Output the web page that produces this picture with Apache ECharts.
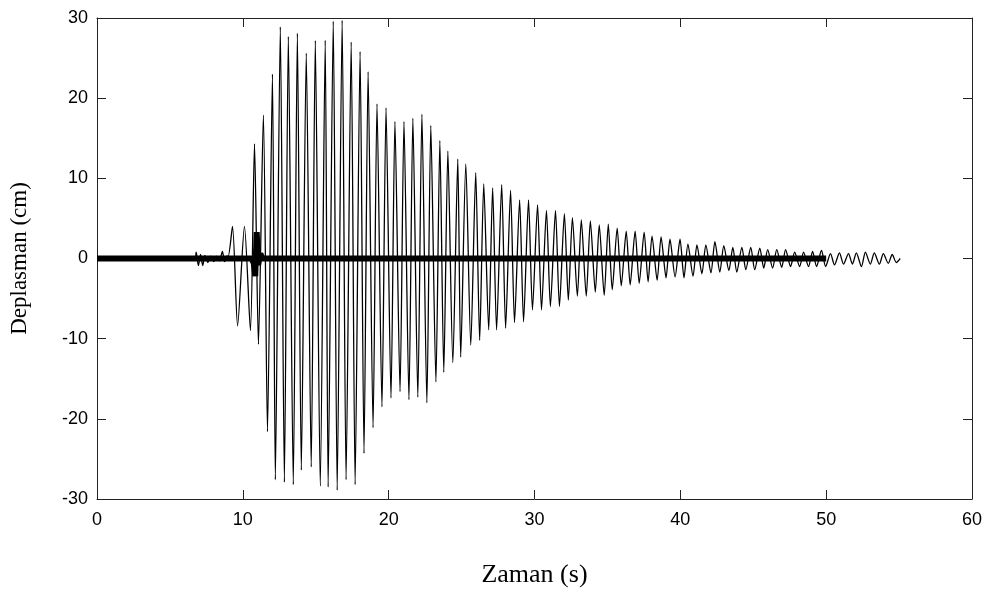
<!DOCTYPE html>
<html><head><meta charset="utf-8">
<script src="https://cdn.jsdelivr.net/npm/echarts@6/dist/echarts.min.js"></script>
<style>html,body{margin:0;padding:0;background:#fff}#c{width:985px;height:595px}</style>
</head><body><div id="c"></div>
<script>
// Response displacement (thin line): times of successive extremes (s) and values (cm)
const mainTime = [0, 6.7, 6.8, 6.95, 7.1, 7.25, 7.4, 7.6, 7.8, 8.0, 8.2, 8.4, 8.6, 8.75, 8.9, 9.0, 9.29, 9.64, 10.11, 10.52, 10.80, 11.07, 11.41, 11.69, 12.03, 12.23, 12.57, 12.85, 13.12, 13.46, 13.74, 14.01, 14.35, 14.69, 14.97, 15.31, 15.65, 15.85, 16.20, 16.47, 16.81, 17.08, 17.43, 17.70, 18.04, 18.31, 18.59, 18.93, 19.20, 19.54, 19.82, 20.16, 20.43, 20.78, 21.05, 21.39, 21.66, 22.00, 22.28, 22.62, 22.89, 23.24, 23.51, 23.78, 24.06, 24.40, 24.74, 24.94, 25.29, 25.63, 25.97, 26.24, 26.52, 26.86, 27.13, 27.40, 27.75, 28.02, 28.36, 28.63, 28.98, 29.25, 29.59, 29.86, 30.21, 30.48, 30.82, 31.09, 31.44, 31.71, 32.05, 32.32, 32.60, 32.94, 33.21, 33.55, 33.83, 34.17, 34.44, 34.78, 35.06, 35.33, 35.67, 35.95, 36.29, 36.56, 36.90, 37.18, 37.52, 37.79, 38.06, 38.41, 38.68, 39.02, 39.29, 39.64, 39.98, 40.25, 40.52, 40.87, 41.14, 41.48, 41.75, 42.10, 42.37, 42.71, 42.98, 43.33, 43.60, 43.87, 44.22, 44.49, 44.83, 45.10, 45.45, 45.72, 45.99, 46.33, 46.61, 46.95, 47.22, 47.56, 47.84, 48.18, 48.45, 48.79, 49.07, 49.34, 49.68, 49.96, 50.30, 50.57, 50.91, 51.19, 51.53, 51.80, 52.07, 52.42, 52.69, 53.03, 53.30, 53.65, 53.92, 54.26, 54.53, 54.81, 55.08];
const mainDisp = [0, 0, 0.8, -0.9, 0.5, -0.9, 0.4, -0.5, 0.3, -0.4, 0.3, -0.3, 0.9, -0.4, 0.3, 0.3, 4.0, -8.4, 4.0, -9.0, 14.3, -10.7, 17.9, -21.6, 23.0, -27.6, 28.9, -27.9, 27.7, -28.2, 28.1, -26.4, 25.6, -26.0, 27.2, -28.4, 27.2, -28.5, 29.6, -28.9, 29.7, -27.6, 27.0, -28.2, 25.8, -24.3, 23.3, -21.1, 19.3, -18.5, 18.8, -17.4, 17.1, -16.6, 17.1, -17.6, 17.5, -17.3, 18.0, -18.0, 16.6, -15.4, 14.7, -14.2, 13.4, -13.0, 12.4, -12.3, 11.8, -10.8, 10.7, -10.2, 9.3, -8.9, 8.8, -8.9, 9.2, -8.7, 8.5, -8.0, 7.3, -7.9, 7.3, -6.4, 6.7, -6.4, 6.0, -6.0, 6.0, -6.0, 5.6, -5.2, 5.1, -4.7, 4.8, -4.7, 4.7, -4.2, 4.2, -4.6, 4.3, -3.9, 3.8, -3.4, 3.4, -3.3, 3.4, -3.1, 3.3, -2.9, 2.8, -2.7, 2.7, -2.4, 2.4, -2.3, 2.4, -2.4, 1.8, -2.2, 1.7, -1.9, 1.7, -1.8, 2.1, -1.7, 1.6, -1.5, 1.4, -1.7, 1.4, -1.4, 1.4, -1.4, 1.3, -1.2, 1.1, -1.2, 1.1, -1.1, 1.1, -1.0, 0.8, -1.0, 0.8, -1.0, 0.9, -1.0, 1.0, -1.0, 0.6, -0.8, 0.7, -0.7, 0.6, -0.7, 0.7, -1.0, 0.8, -0.7, 0.7, -0.7, 0.6, -0.6, 0.5, -0.5, 0.0];
// Base displacement (thick line)
const baseTime = [0, 10.6, 10.75, 10.85, 10.95, 11.05, 11.2, 11.35, 50.0];
const baseDisp = [0, 0, -0.6, -2.2, 3.3, -0.8, 0.6, 0, 0];
const xName = 'Zaman (s)';
const yName = 'Deplasman (cm)';

const mainData = mainTime.map((t, i) => [t, mainDisp[i]]);
const baseData = baseTime.map((t, i) => [t, baseDisp[i]]);

const tickFont = "'Liberation Sans Narrow', 'Liberation Sans', Arial, sans-serif";
const serif = "'Liberation Serif', 'Times New Roman', serif";
const lineStyle = { color: '#222', width: 1 };
const tickStyle = { show: true, inside: true, length: 9, lineStyle: { color: '#222', width: 1 } };

const chart = echarts.init(document.getElementById('c'), null, { renderer: 'canvas' });
chart.setOption({
  animation: false,
  backgroundColor: '#fff',
  grid: { left: 97, right: 10, top: 18, bottom: 96, containLabel: false },
  xAxis: [
    { type: 'value', position: 'bottom', min: 0, max: 60, interval: 10,
      axisLine: { show: true, onZero: false, lineStyle }, axisTick: tickStyle, splitLine: { show: false },
      axisLabel: { color: '#000', fontFamily: tickFont, fontSize: 18, margin: 12 },
      name: xName, nameLocation: 'middle', nameGap: 63,
      nameTextStyle: { color: '#000', fontFamily: serif, fontSize: 26 } },
    { type: 'value', position: 'top', min: 0, max: 60, interval: 10,
      axisLine: { show: true, onZero: false, lineStyle }, axisTick: tickStyle, splitLine: { show: false },
      axisLabel: { show: false } }
  ],
  yAxis: [
    { type: 'value', position: 'left', min: -30, max: 30, interval: 10,
      axisLine: { show: true, onZero: false, lineStyle }, axisTick: tickStyle, splitLine: { show: false },
      axisLabel: { color: '#000', fontFamily: tickFont, fontSize: 18, margin: 9 },
      name: yName, nameLocation: 'middle', nameGap: 66,
      nameTextStyle: { color: '#000', fontFamily: serif, fontSize: 23 } },
    { type: 'value', position: 'right', min: -30, max: 30, interval: 10,
      axisLine: { show: true, onZero: false, lineStyle }, axisTick: tickStyle, splitLine: { show: false },
      axisLabel: { show: false } }
  ],
  series: [
    { type: 'line', data: baseData, xAxisIndex: 0, yAxisIndex: 0, showSymbol: false, symbol: 'none',
      lineStyle: { color: '#000', width: 6 }, z: 2 },
    { type: 'line', data: mainData, xAxisIndex: 0, yAxisIndex: 0, showSymbol: false, symbol: 'none',
      smooth: 0.25, lineStyle: { color: '#000', width: 1.3 }, z: 3 }
  ]
});
</script>
</body></html>
